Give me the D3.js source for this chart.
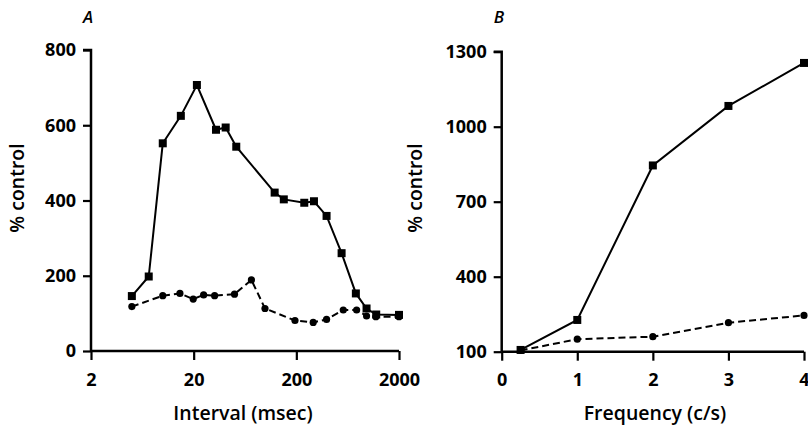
<!DOCTYPE html>
<html><head><meta charset="utf-8">
<script src="https://cdn.jsdelivr.net/npm/d3@7/dist/d3.min.js"></script>
<style>
body{margin:0;background:#fff;}
svg{display:block;}
.tick text{font-family:"Open Sans",Lato,sans-serif;font-weight:700;font-size:18px;fill:#000;}
.ttl{font-family:"Open Sans",Lato,sans-serif;font-weight:600;font-size:19.5px;fill:#000;}
</style></head>
<body>
<script>
// Panel A: interval (msec), % control
const intervalSquares = [5, 7.3, 10, 15, 21.5, 33, 41, 52, 123, 151, 239, 297, 394, 552, 760, 966, 1200, 2000];
const pctSquaresA     = [146, 198, 552, 625, 707, 588, 594, 543, 421, 403, 394, 398, 359, 260, 153, 113, 97, 96];
const intervalCircles = [5, 10, 14.7, 19.8, 25, 32, 50, 73, 99, 194, 292, 394, 573, 773, 966, 1191, 2000];
const pctCirclesA     = [118, 147, 153, 138, 149, 147, 151, 189, 113, 81, 76, 84, 109, 109, 93, 91, 91];
const xTicksA = [2, 20, 200, 2000];
const yTicksA = [0, 200, 400, 600, 800];

// Panel B: frequency (c/s), % control
const frequency   = [0.25, 1, 2, 3, 4];
const pctSquaresB = [107, 227, 845, 1083, 1255];
const pctCirclesB = [105, 150, 160, 216, 245];
const xTicksB = [0, 1, 2, 3, 4];
const yTicksB = [100, 400, 700, 1000, 1300];

const svg = d3.select("body").append("svg").attr("width", 808).attr("height", 430);

function panel(o) {
  const g = svg.append("g");
  const xAxis = d3.axisBottom(o.x).tickValues(o.xTicks).tickSize(9).tickPadding(13).tickFormat(d => String(d));
  const yAxis = d3.axisLeft(o.y).tickValues(o.yTicks).tickSize(8).tickPadding(7).tickFormat(d => String(d));
  const gx = g.append("g").attr("transform", `translate(0,${o.y.range()[0]})`).call(xAxis);
  const gy = g.append("g").attr("transform", `translate(${o.x.range()[0]},0)`).call(yAxis);
  [gx, gy].forEach(a => {
    a.select(".domain").attr("stroke", "#000").attr("stroke-width", 2.5);
    a.selectAll(".tick line").attr("stroke", "#000").attr("stroke-width", 2.2);
  });
  gy.select(".domain").attr("d", `M-8,${o.y.range()[1]}H0V${o.y.range()[0]}`);
  gx.select(".domain").attr("d", `M${o.x.range()[0]},0H${o.x.range()[1]}`);

  const lineC = d3.line().x((d, i) => o.x(o.xc[i])).y(d => o.y(d));
  g.append("path").datum(o.yc).attr("d", lineC).attr("fill", "none").attr("stroke", "#000")
    .attr("stroke-width", 2).attr("stroke-dasharray", "7,4");
  const lineS = d3.line().x((d, i) => o.x(o.xs[i])).y(d => o.y(d));
  g.append("path").datum(o.ys).attr("d", lineS).attr("fill", "none").attr("stroke", "#000")
    .attr("stroke-width", 2);
  g.selectAll("circle.c").data(o.yc).join("circle").attr("class", "c")
    .attr("cx", (d, i) => o.x(o.xc[i])).attr("cy", d => o.y(d)).attr("r", 3.6).attr("fill", "#000");
  g.selectAll("rect.s").data(o.ys).join("rect").attr("class", "s")
    .attr("x", (d, i) => o.x(o.xs[i]) - 4).attr("y", d => o.y(d) - 4)
    .attr("width", 8).attr("height", 8).attr("fill", "#000");

  g.append("text").attr("class", "ttl").attr("x", o.xTitleX).attr("y", 420)
    .attr("text-anchor", "middle").text(o.xTitle);
  g.append("text").attr("class", "ttl")
    .attr("transform", `translate(${o.yTitleX},${o.yTitleY}) rotate(-90)`)
    .attr("text-anchor", "middle").attr("dy", "0.35em").text("% control");
  g.append("text").attr("x", o.letterX).attr("y", 23).attr("text-anchor", "middle")
    .style("font-family", "'Open Sans',Lato,sans-serif").style("font-style", "italic")
    .style("font-weight", 600).style("font-size", "17px").text(o.letter);
}

panel({
  x: d3.scaleLog().domain([2, 2000]).range([91, 399]),
  y: d3.scaleLinear().domain([0, 800]).range([351, 50]),
  xTicks: xTicksA, yTicks: yTicksA,
  xs: intervalSquares, ys: pctSquaresA, xc: intervalCircles, yc: pctCirclesA,
  xTitle: "Interval (msec)", xTitleX: 243, yTitleX: 17, yTitleY: 188, letter: "A", letterX: 88
});
panel({
  x: d3.scaleLinear().domain([0, 4]).range([501.7, 804]),
  y: d3.scaleLinear().domain([100, 1300]).range([351.7, 51.7]),
  xTicks: xTicksB, yTicks: yTicksB,
  xs: frequency, ys: pctSquaresB, xc: frequency, yc: pctCirclesB,
  xTitle: "Frequency (c/s)", xTitleX: 655, yTitleX: 415, yTitleY: 188, letter: "B", letterX: 499
});
</script>
</body></html>
